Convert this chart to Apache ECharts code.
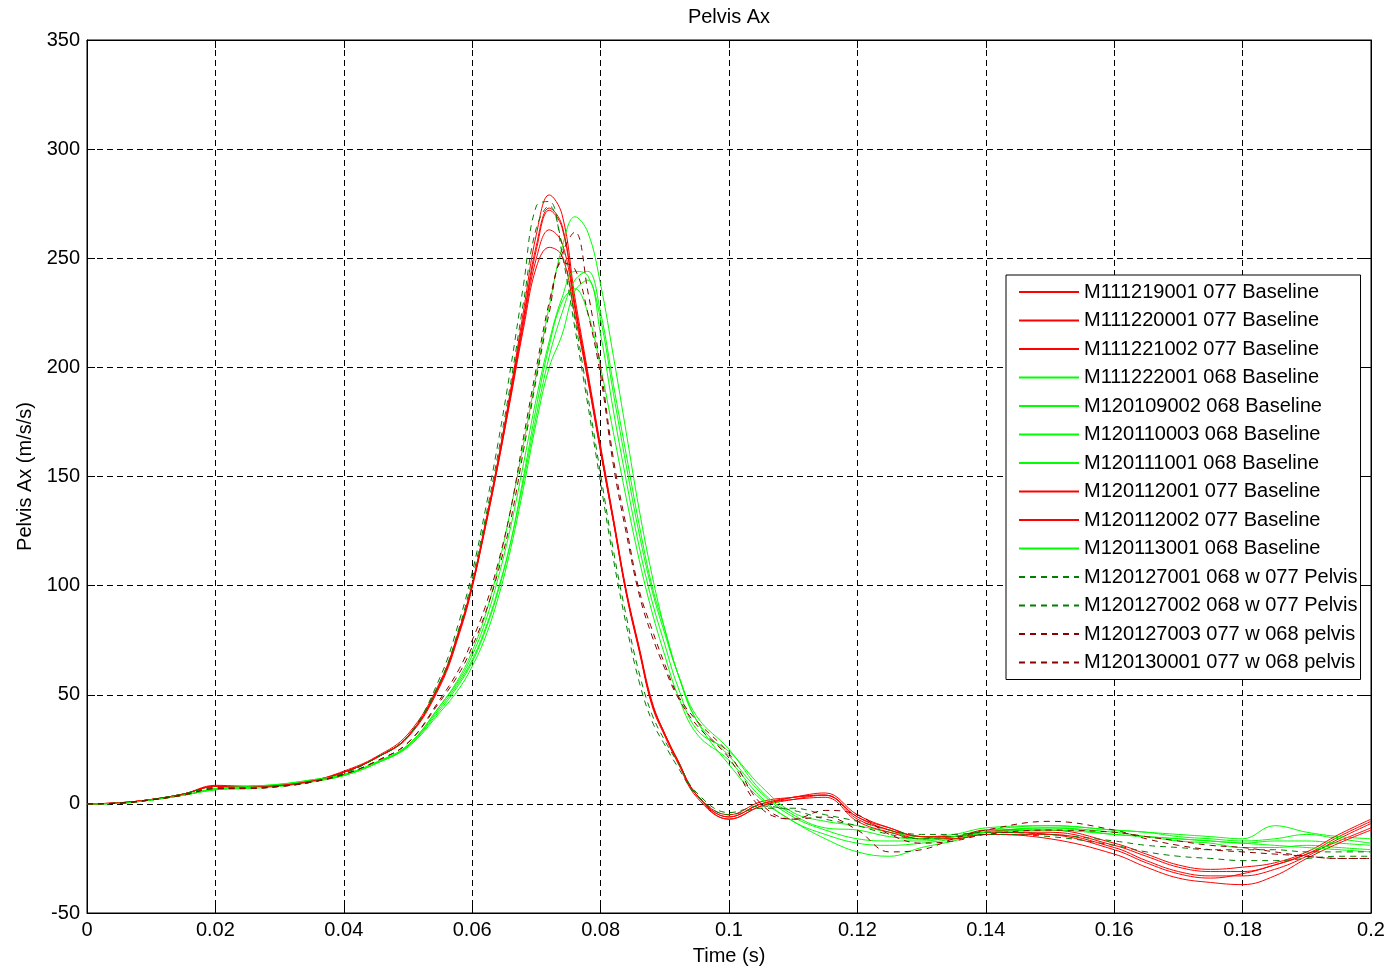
<!DOCTYPE html>
<html>
<head>
<meta charset="utf-8">
<script src="https://cdn.jsdelivr.net/npm/echarts@6/dist/echarts.min.js"></script>
<style>html,body{margin:0;padding:0;background:#fff;}#c{width:1390px;height:970px;}</style>
</head>
<body>
<div id="c"></div>
<script>
const T = [0, 0.005, 0.01, 0.015, 0.02, 0.025, 0.03, 0.035, 0.04, 0.045, 0.05, 0.055, 0.058, 0.06, 0.062, 0.064, 0.066, 0.068, 0.07, 0.072, 0.074, 0.076, 0.078, 0.08, 0.082, 0.084, 0.086, 0.088, 0.09, 0.092, 0.095, 0.1, 0.105, 0.11, 0.115, 0.12, 0.125, 0.13, 0.135, 0.14, 0.15, 0.16, 0.165, 0.17, 0.175, 0.18, 0.185, 0.19, 0.195, 0.2];

const names = [
  'M111219001 077 Baseline','M111220001 077 Baseline','M111221002 077 Baseline',
  'M111222001 068 Baseline','M120109002 068 Baseline','M120110003 068 Baseline',
  'M120111001 068 Baseline','M120112001 077 Baseline','M120112002 077 Baseline',
  'M120113001 068 Baseline','M120127001 068 w 077 Pelvis','M120127002 068 w 077 Pelvis',
  'M120127003 077 w 068 pelvis','M120130001 077 w 068 pelvis'
];

const M111219001 = [0,0.5,2,4.5,8,8,8.5,10.5,14.5,21,31, 55,79,100,127,157,190,226,261,279,270,232,198,164,131,98,72,47,32,20,4, -6,0,3,5,-5,-11,-15,-15,-13,-13,-19,-24,-29,-31,-31,-28,-23,-15,-8];
const M111220001 = [0,0.4,2,4.5,8.5,8,8.5,10.5,15,21.5,32, 56,80,101,128,157,189,223,256,273,265,229,196,162,129,96,70,45,31,19,3, -7,-1,2,4,-6,-12,-15,-16,-14,-14,-20,-26,-31,-33,-33,-30,-24,-16,-9];
const M111221002 = [0,0.5,2,4.5,8,8,8.5,10.5,14.5,21,30.5, 54,78,99,126,155,187,220,250,263,257,227,195,162,130,97,71,46,32,20,4, -5,1,3,4,-7,-12,-16,-15,-13,-14,-21,-27,-32,-34,-32,-28,-23,-17,-11];
const M111222001 = [0,0.3,1.8,4,7,8,9,11,13.5,19,27, 45,58,70,86,108,135,165,197,228,255,269,262,238,205,170,135,105,80,60,38, 18,2,-8,-16,-22,-24,-20,-17,-13,-11,-14,-15,-16,-17,-18,-17,-17,-18,-19];
const M120109002 = [0,0.3,1.8,4,6.5,7.5,8.5,10.5,13,18.5,26.5, 44,56,66,80,98,120,148,178,205,225,240,244,225,192,160,128,100,80,60,38, 22,5,-6,-12,-16,-17,-17,-15,-12,-10,-12,-13,-14,-15,-16,-10,-13,-15,-16];
const M120110003 = [0,0.3,1.8,4,6.5,7.5,8.5,10.5,13,18.5,26, 42,53,63,76,94,117,145,175,200,215,235,240,215,180,148,118,93,73,54,34, 24,8,-4,-8,-10,-13,-15,-14,-11,-10,-12,-13,-15,-16,-17,-16,-14,-16,-18];
const M120111001 = [0,0.3,1.8,4,6.5,7,8,10,13,18.5,26.5, 43,55,65,79,97,120,150,182,210,230,236,225,200,170,140,112,88,68,50,32, 20,3,-8,-14,-18,-19,-18,-16,-13,-11,-13,-15,-17,-18,-20,-20,-19,-20,-21];
const M120112001 = [0,0.5,2,4.5,8,8,8.5,10.5,14.5,21,31, 55,79,100,126,155,186,218,246,255,251,224,194,161,129,97,71,46,32,20,4, -6,0,2,3,-8,-13,-16,-16,-14,-16,-23,-29,-34,-36,-37,-33,-25,-18,-12];
const M120112002 = [0,0.5,2,4.5,8,8,8.5,10.5,14.5,21,31, 55,80,100,127,156,188,222,254,272,264,228,196,163,130,97,71,46,32,20,4, -7,-1,3,4,-6,-11,-15,-15,-12,-12,-18,-23,-28,-30,-29,-27,-22,-14,-7];
const M120113001 = [0,0.3,1.8,4,7,8,9,11,13.5,19,27, 45,57,68,83,103,127,156,186,212,232,244,242,222,188,155,124,98,78,60,40, 25,6,-5,-11,-12,-15,-16,-15,-13,-12,-14,-15,-16,-17,-18,-19,-20,-21,-22];
const M120127001 = [0,0.4,2,4.5,7.5,7.5,8,10,14,21,31, 58,84,106,134,165,200,238,274,276,252,218,183,147,112,82,56,38,27,17,4, -5,-2,-2,-5,-8,-12,-14,-14,-13,-14,-17,-19,-20,-21,-21,-21,-22,-22,-22];
const M120127002 = [0,0.4,2,4.5,7.5,7.5,8,10,14,21,31, 56,81,103,130,160,193,230,264,274,256,222,187,151,116,86,60,41,29,19,5, -4,-1,-3,-7,-10,-14,-16,-15,-14,-15,-19,-22,-24,-25,-26,-26,-25,-24,-24];
const M120127003 = [0,0.3,1.8,4,7,7,8,10,13.5,19.5,28, 48,62,75,90,110,135,168,200,230,252,262,235,200,158,127,98,80,64,50,38, 23,0,-7,-6,-12,-22,-21,-16,-12,-8,-12,-16,-19,-21,-22,-23,-24,-25,-25];
const M120130001 = [0,0.3,1.8,4,7,7,8,10,13.5,19.5,28, 47,60,72,87,106,130,162,195,225,248,245,225,196,155,124,96,77,62,49,36, 21,-2,-7,-3,-5,-14,-18,-17,-14,-12,-13,-15,-17,-19,-20,-22,-24,-25,-25];

const values = [M111219001, M111220001, M111221002, M111222001, M120109002, M120110003, M120111001, M120112001, M120112002, M120113001, M120127001, M120127002, M120127003, M120130001];
const colors = ['#ff0000','#ff0000','#ff0000','#00ff00','#00ff00','#00ff00','#00ff00','#ff0000','#ff0000','#00ff00','#008000','#008000','#8b0000','#8b0000'];
const dashed = [false,false,false,false,false,false,false,false,false,false,true,true,true,true];

const FONT = "'Liberation Sans', Arial, Helvetica, sans-serif";
const FS = 20;
const chart = echarts.init(document.getElementById('c'), null, {renderer: 'canvas'});

const series = values.map((v, i) => ({
  name: names[i],
  type: 'line',
  xAxisIndex: 0,
  yAxisIndex: 0,
  data: T.map((t, k) => [t, v[k]]),
  symbol: 'none',
  smooth: 0.4,
  color: colors[i],
  lineStyle: { width: 1, color: colors[i], type: dashed[i] ? [6, 5] : 'solid' },
  emphasis: { disabled: true },
  animation: false
}));

const labelFmt = v => String(Number(v.toFixed(3)));
const tickStyle = { inside: true, length: 8, lineStyle: { color: '#000', width: 1 } };

chart.setOption({
  animation: false,
  backgroundColor: '#fff',
  title: {
    text: 'Pelvis Ax', left: 729, top: 7, padding: 0, textAlign: 'center',
    textStyle: { fontFamily: FONT, fontSize: FS, fontWeight: 'normal', color: '#000' }
  },
  grid: { left: 87, right: 19, top: 40, bottom: 57, show: true, borderColor: '#000', borderWidth: 1, backgroundColor: '#fff', outerBoundsMode: 'none', containLabel: false },
  legend: {
    data: names,
    orient: 'vertical',
    left: 1006, top: 275,
    padding: [7, 3, 7, 12],
    itemWidth: 60, itemHeight: 14, itemGap: 8.5,
    backgroundColor: '#fff', borderColor: '#000', borderWidth: 1,
    itemStyle: { opacity: 0 },
    textStyle: { fontFamily: FONT, fontSize: FS, color: '#000', lineHeight: 20 },
    selectedMode: false
  },
  xAxis: [{
    type: 'value', min: 0, max: 0.2, interval: 0.02, position: 'bottom',
    name: 'Time (s)', nameLocation: 'middle', nameGap: 33,
    nameTextStyle: { fontFamily: FONT, fontSize: FS, color: '#000' },
    axisLine: { show: true, onZero: false, lineStyle: { color: '#000', width: 1 } },
    axisTick: tickStyle,
    axisLabel: { fontFamily: FONT, fontSize: FS, color: '#000', margin: 7, formatter: labelFmt },
    splitLine: { show: true, lineStyle: { color: '#000', width: 1, type: [6, 4] } }
  }, {
    type: 'value', min: 0, max: 0.2, interval: 0.02, position: 'top',
    axisLine: { show: true, onZero: false, lineStyle: { color: '#000', width: 1 } },
    axisTick: tickStyle, axisLabel: { show: false }, splitLine: { show: false }
  }],
  yAxis: [{
    type: 'value', min: -50, max: 350, interval: 50, position: 'left',
    name: 'Pelvis Ax (m/s/s)', nameLocation: 'middle', nameGap: 50,
    nameTextStyle: { fontFamily: FONT, fontSize: FS, color: '#000' },
    axisLine: { show: true, onZero: false, lineStyle: { color: '#000', width: 1 } },
    axisTick: tickStyle,
    axisLabel: { fontFamily: FONT, fontSize: FS, color: '#000', margin: 7 },
    splitLine: { show: true, lineStyle: { color: '#000', width: 1, type: [6, 4] } }
  }, {
    type: 'value', min: -50, max: 350, interval: 50, position: 'right',
    axisLine: { show: true, onZero: false, lineStyle: { color: '#000', width: 1 } },
    axisTick: tickStyle, axisLabel: { show: false }, splitLine: { show: false }
  }],
  series: series
});
</script>
</body>
</html>
